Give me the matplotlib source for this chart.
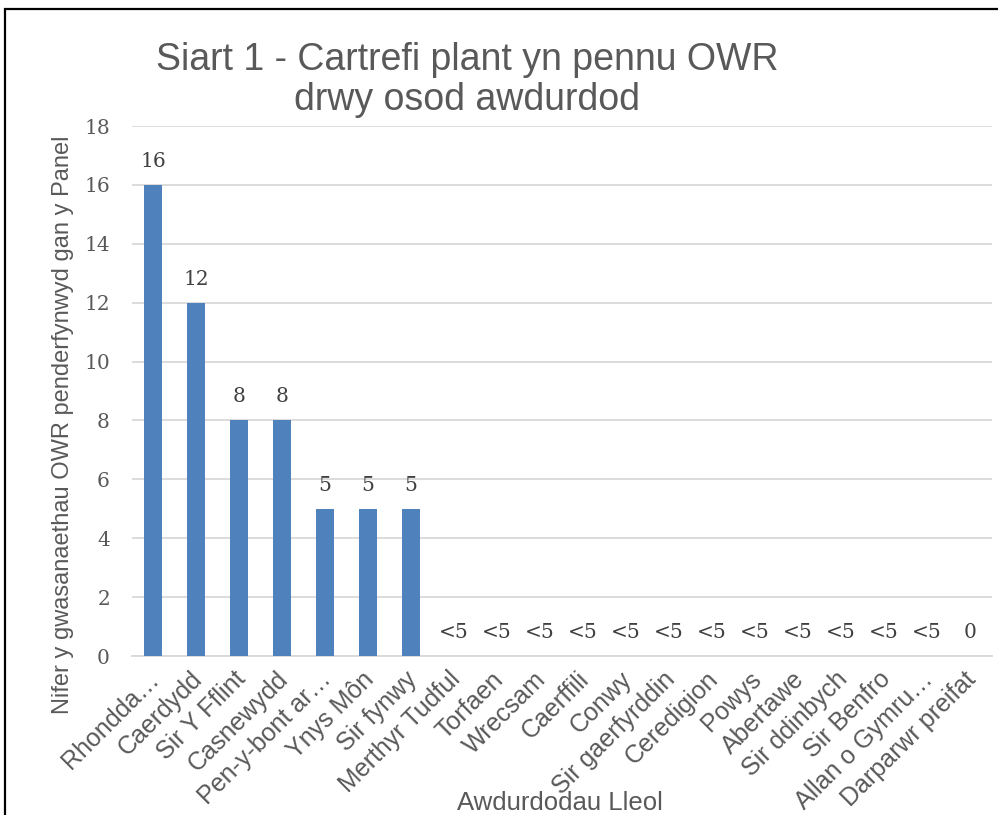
import matplotlib
matplotlib.use("Agg")
import matplotlib.pyplot as plt
from matplotlib.patches import Rectangle
from matplotlib.transforms import ScaledTranslation

categories = ["Rhondda…", "Caerdydd", "Sir Y Fflint", "Casnewydd", "Pen-y-bont ar…",
              "Ynys Môn", "Sir fynwy", "Merthyr Tudful", "Torfaen", "Wrecsam",
              "Caerffili", "Conwy", "Sir gaerfyrddin", "Ceredigion", "Powys",
              "Abertawe", "Sir ddinbych", "Sir Benfro", "Allan o Gymru…", "Darparwr preifat"]
values = [16, 12, 8, 8, 5, 5, 5, 0, 0, 0, 0, 0, 0, 0, 0, 0, 0, 0, 0, 0]
data_labels = ["16", "12", "8", "8", "5", "5", "5", "<5", "<5", "<5", "<5", "<5",
               "<5", "<5", "<5", "<5", "<5", "<5", "<5", "0"]
yticks = [0, 2, 4, 6, 8, 10, 12, 14, 16, 18]

W, H = 998, 815
fig = plt.figure(figsize=(W / 100, H / 100), dpi=100)
ax = fig.add_axes([131.5 / W, 1 - 656 / H, (991.5 - 131.5) / W, (656 - 126) / H])

txt = "#595959"
sans = "Liberation Sans"
serif = "DejaVu Serif"

x = list(range(len(categories)))
ax.bar(x, values, width=0.4, color="#4f81bd", zorder=3)
for xi, v, lab in zip(x, values, data_labels):
    ax.annotate(lab, (xi, v), xytext=(0, 13), textcoords="offset points",
                ha="center", va="baseline", fontsize=14.5, family=serif, color="#404040")

ax.set_xlim(-0.5, len(categories) - 0.5)
ax.set_ylim(0, 18)
ax.set_yticks(yticks)
ax.set_yticklabels([str(t) for t in yticks], fontsize=14.5, family=serif, color=txt)
ax.yaxis.grid(True, color="#d9d9d9", linewidth=1.3, zorder=0)
ax.set_axisbelow(True)
for s in ["top", "right", "left"]:
    ax.spines[s].set_visible(False)
ax.spines["bottom"].set_color("#d9d9d9")
ax.spines["bottom"].set_linewidth(1.3)
ax.tick_params(axis="y", length=0, pad=15.5)
ax.tick_params(axis="x", length=0, pad=8)
ax.set_xticks(x)
ax.set_xticklabels(categories, rotation=45, ha="right", rotation_mode="anchor",
                   fontsize=18, family=sans, color=txt)
off = ScaledTranslation(-6 / 100, 0, fig.dpi_scale_trans)
for lbl in ax.get_xticklabels():
    lbl.set_transform(lbl.get_transform() + off)

fig.text(467 / W, 1 - 80 / H, "Siart 1 - Cartrefi plant yn pennu OWR\ndrwy osod awdurdod",
         ha="center", va="center", fontsize=27, family=sans, color=txt, linespacing=1.15)
fig.text(63 / W, 1 - 425 / H, "Nifer y gwasanaethau OWR penderfynwyd gan y Panel",
         rotation=90, ha="center", va="center", fontsize=17, family=sans, color=txt)
fig.text(560 / W, 1 - 803 / H, "Awdurdodau Lleol", ha="center", va="center",
         fontsize=18.5, family=sans, color=txt)

# outer chart frame (left and top edges visible)
fig.patches.append(Rectangle((4.5 / W, -0.1), 1.2, 1 - 8.5 / H + 0.1,
                             transform=fig.transFigure, fill=False,
                             edgecolor="black", linewidth=1.6))

fig.savefig("out.png", dpi=100)
